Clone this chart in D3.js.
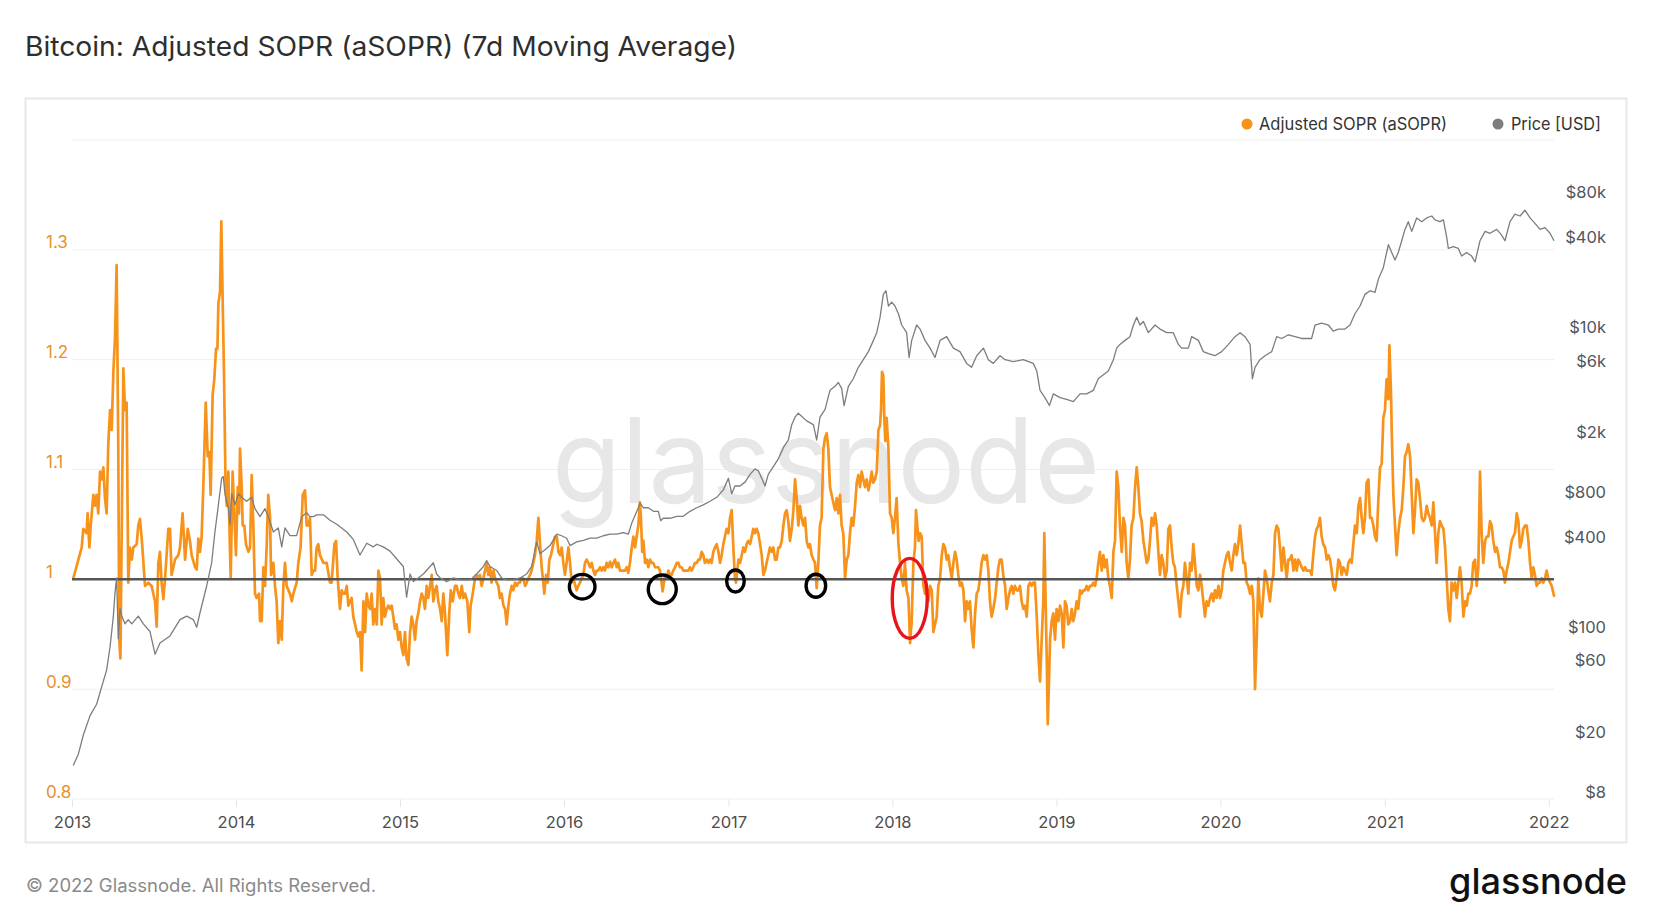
<!DOCTYPE html>
<html><head><meta charset="utf-8">
<script src="https://cdn.jsdelivr.net/npm/d3@7"></script>
<style>
html,body{margin:0;padding:0;background:#fff;}
svg{display:block;font-family:Inter,"Noto Sans",sans-serif;}
</style></head><body>
<svg id="chart" width="1659" height="924"></svg>
<script>
// ---------- DATA (time as decimal year) ----------
const titleText = "Bitcoin: Adjusted SOPR (aSOPR) (7d Moving Average)";
const seriesNames = ["Adjusted SOPR (aSOPR)", "Price [USD]"];
const yearTicks = [2013,2014,2015,2016,2017,2018,2019,2020,2021,2022];
const soprTicks = [0.8,0.9,1,1.1,1.2,1.3];
const soprGrid = [0.8,0.9,1.1,1.2,1.3,1.4];
const priceTicks = [8,20,60,100,400,800,2000,6000,10000,40000,80000];
const priceTickLabels = ["$8","$20","$60","$100","$400","$800","$2k","$6k","$10k","$40k","$80k"];
const lastDate = 2022.031;

const asoprPoints = [
[2013.008,1.001],[2013.039,1.018],[2013.059,1.029],[2013.069,1.046],[2013.089,1.042],[2013.095,1.060],[2013.106,1.029],[2013.114,1.049],[2013.130,1.077],[2013.140,1.067],[2013.150,1.077],[2013.160,1.060],[2013.171,1.098],[2013.181,1.091],[2013.191,1.102],[2013.201,1.074],[2013.211,1.060],[2013.221,1.123],[2013.232,1.154],[2013.242,1.136],[2013.252,1.189],[2013.262,1.220],[2013.272,1.286],[2013.282,1.119],[2013.288,0.945],[2013.295,0.928],[2013.313,1.192],[2013.323,1.154],[2013.333,1.161],[2013.343,0.997],[2013.353,1.029],[2013.364,1.018],[2013.374,1.029],[2013.394,1.032],[2013.404,1.049],[2013.414,1.055],[2013.425,1.037],[2013.445,0.994],[2013.465,0.997],[2013.485,0.994],[2013.506,0.980],[2013.516,0.957],[2013.526,1.015],[2013.536,1.025],[2013.546,0.997],[2013.557,0.982],[2013.567,1.001],[2013.587,1.046],[2013.597,1.046],[2013.607,1.004],[2013.628,1.018],[2013.648,1.022],[2013.658,1.029],[2013.674,1.060],[2013.689,1.018],[2013.705,1.046],[2013.719,1.035],[2013.729,1.022],[2013.750,1.011],[2013.760,1.009],[2013.770,1.037],[2013.780,1.025],[2013.790,1.039],[2013.800,1.084],[2013.815,1.161],[2013.827,1.112],[2013.837,1.116],[2013.845,1.077],[2013.857,1.168],[2013.867,1.182],[2013.878,1.210],[2013.886,1.210],[2013.892,1.251],[2013.902,1.262],[2013.910,1.326],[2013.918,1.255],[2013.926,1.189],[2013.936,1.084],[2013.943,1.067],[2013.953,1.098],[2013.959,1.049],[2013.967,1.001],[2013.979,1.098],[2013.987,1.067],[2013.999,1.022],
[2014.010,1.084],[2014.018,1.060],[2014.024,1.119],[2014.034,1.084],[2014.040,1.049],[2014.050,1.049],[2014.060,1.032],[2014.075,1.025],[2014.085,1.029],[2014.095,1.095],[2014.105,1.049],[2014.115,0.987],[2014.125,0.983],[2014.140,0.987],[2014.146,0.962],[2014.156,0.962],[2014.166,1.011],[2014.176,0.994],[2014.186,1.029],[2014.196,1.077],[2014.207,1.056],[2014.213,1.004],[2014.227,1.015],[2014.237,0.994],[2014.247,0.980],[2014.257,0.942],[2014.268,0.962],[2014.278,0.945],[2014.288,0.994],[2014.298,1.015],[2014.308,0.994],[2014.328,0.987],[2014.339,0.980],[2014.349,0.987],[2014.369,0.997],[2014.379,1.015],[2014.393,1.029],[2014.406,1.077],[2014.420,1.081],[2014.430,1.049],[2014.440,1.049],[2014.450,1.056],[2014.461,1.004],[2014.471,1.008],[2014.481,1.008],[2014.491,1.029],[2014.501,1.032],[2014.511,1.022],[2014.532,1.015],[2014.552,1.015],[2014.572,0.997],[2014.582,0.997],[2014.599,1.032],[2014.609,1.035],[2014.619,1.001],[2014.633,0.973],[2014.643,0.990],[2014.654,0.987],[2014.664,0.987],[2014.674,0.994],[2014.684,0.976],[2014.694,0.980],[2014.704,0.983],[2014.714,0.966],[2014.725,0.959],[2014.735,0.952],[2014.745,0.948],[2014.755,0.952],[2014.765,0.917],[2014.776,0.980],[2014.786,0.952],[2014.796,0.987],[2014.806,0.976],[2014.816,0.973],[2014.826,0.987],[2014.836,0.959],[2014.847,0.973],[2014.857,0.959],[2014.867,1.008],[2014.877,1.001],[2014.887,0.959],[2014.897,0.983],[2014.907,0.966],[2014.918,0.973],[2014.928,0.976],[2014.938,0.973],[2014.948,0.976],[2014.958,0.966],[2014.968,0.955],[2014.978,0.959],[2014.989,0.945],[2014.999,0.952],
[2015.009,0.938],[2015.019,0.931],[2015.029,0.952],[2015.039,0.928],[2015.050,0.922],[2015.060,0.952],[2015.070,0.966],[2015.080,0.959],[2015.090,0.945],[2015.100,0.962],[2015.110,0.969],[2015.121,0.980],[2015.131,0.987],[2015.141,0.983],[2015.151,0.973],[2015.161,0.994],[2015.171,0.983],[2015.192,1.004],[2015.202,0.980],[2015.212,0.990],[2015.222,0.994],[2015.232,0.980],[2015.243,0.973],[2015.253,0.962],[2015.263,0.987],[2015.273,0.969],[2015.287,0.931],[2015.299,0.969],[2015.308,0.990],[2015.320,0.980],[2015.334,0.994],[2015.344,0.994],[2015.354,0.987],[2015.364,0.983],[2015.375,0.994],[2015.385,0.983],[2015.395,0.987],[2015.409,0.980],[2015.421,0.952],[2015.429,0.976],[2015.442,0.987],[2015.456,1.001],[2015.466,1.004],[2015.476,1.001],[2015.486,1.004],[2015.496,0.994],[2015.507,1.001],[2015.517,1.008],[2015.527,1.015],[2015.537,1.004],[2015.547,1.011],[2015.557,0.997],[2015.568,1.008],[2015.578,1.001],[2015.588,0.997],[2015.598,0.994],[2015.608,0.983],[2015.618,0.987],[2015.629,0.976],[2015.639,0.973],[2015.649,0.959],[2015.659,0.976],[2015.669,0.987],[2015.679,0.994],[2015.689,0.990],[2015.700,0.997],[2015.710,0.994],[2015.720,0.997],[2015.730,0.997],[2015.740,1.001],[2015.750,1.001],[2015.761,0.994],[2015.771,0.997],[2015.781,1.001],[2015.791,1.004],[2015.801,1.008],[2015.811,1.015],[2015.821,1.022],[2015.832,1.035],[2015.842,1.056],[2015.852,1.032],[2015.862,1.011],[2015.872,0.997],[2015.878,0.987],[2015.889,1.004],[2015.899,0.997],[2015.909,1.018],[2015.919,1.022],[2015.933,1.032],[2015.943,1.039],[2015.954,1.039],[2015.964,1.025],[2015.974,1.022],[2015.984,1.029],[2015.994,1.015],
[2016.004,1.004],[2016.014,1.015],[2016.025,1.029],[2016.035,1.015],[2016.045,0.997],[2016.055,1.001],[2016.075,0.990],[2016.085,0.994],[2016.096,0.997],[2016.106,1.001],[2016.116,1.004],[2016.126,1.015],[2016.136,1.018],[2016.146,1.015],[2016.157,1.011],[2016.167,1.015],[2016.177,1.008],[2016.187,1.004],[2016.197,1.008],[2016.207,1.008],[2016.218,1.011],[2016.228,1.008],[2016.238,1.011],[2016.248,1.008],[2016.258,1.015],[2016.268,1.011],[2016.279,1.016],[2016.289,1.011],[2016.299,1.015],[2016.309,1.018],[2016.319,1.011],[2016.329,1.015],[2016.339,1.008],[2016.350,1.008],[2016.360,1.008],[2016.370,1.008],[2016.380,1.011],[2016.390,1.006],[2016.400,1.015],[2016.411,1.029],[2016.421,1.039],[2016.431,1.029],[2016.441,1.039],[2016.451,1.049],[2016.461,1.070],[2016.467,1.056],[2016.475,1.025],[2016.482,1.035],[2016.492,1.015],[2016.502,1.018],[2016.512,1.011],[2016.522,1.018],[2016.532,1.015],[2016.542,1.015],[2016.553,1.011],[2016.563,1.011],[2016.573,1.011],[2016.583,1.008],[2016.593,0.997],[2016.599,0.989],[2016.607,0.997],[2016.616,1.004],[2016.624,1.001],[2016.634,1.008],[2016.644,1.004],[2016.654,1.004],[2016.664,1.008],[2016.675,1.011],[2016.685,1.015],[2016.695,1.015],[2016.705,1.011],[2016.715,1.011],[2016.725,1.008],[2016.735,1.008],[2016.746,1.008],[2016.756,1.008],[2016.766,1.011],[2016.776,1.008],[2016.786,1.011],[2016.796,1.015],[2016.807,1.015],[2016.817,1.018],[2016.827,1.018],[2016.837,1.025],[2016.847,1.022],[2016.857,1.015],[2016.868,1.018],[2016.878,1.015],[2016.888,1.018],[2016.898,1.015],[2016.908,1.025],[2016.918,1.029],[2016.929,1.032],[2016.939,1.025],[2016.949,1.015],[2016.959,1.022],[2016.969,1.032],[2016.979,1.039],[2016.989,1.046],
[2017.000,1.042],[2017.010,1.056],[2017.020,1.063],[2017.030,1.029],[2017.040,1.001],[2017.046,0.997],[2017.054,1.008],[2017.061,1.018],[2017.071,1.015],[2017.081,1.022],[2017.091,1.029],[2017.101,1.025],[2017.111,1.032],[2017.121,1.035],[2017.132,1.032],[2017.142,1.039],[2017.152,1.046],[2017.162,1.042],[2017.172,1.046],[2017.182,1.042],[2017.193,1.032],[2017.203,1.022],[2017.213,1.004],[2017.223,1.008],[2017.233,1.015],[2017.243,1.022],[2017.253,1.029],[2017.264,1.025],[2017.274,1.029],[2017.284,1.018],[2017.294,1.018],[2017.304,1.029],[2017.314,1.029],[2017.325,1.035],[2017.335,1.049],[2017.345,1.060],[2017.355,1.063],[2017.365,1.053],[2017.375,1.035],[2017.386,1.046],[2017.396,1.063],[2017.406,1.091],[2017.416,1.074],[2017.426,1.049],[2017.436,1.067],[2017.446,1.056],[2017.457,1.049],[2017.467,1.056],[2017.477,1.035],[2017.487,1.029],[2017.497,1.032],[2017.507,1.022],[2017.518,1.018],[2017.528,1.015],[2017.538,0.992],[2017.548,1.015],[2017.558,1.049],[2017.568,1.056],[2017.579,1.119],[2017.589,1.129],[2017.599,1.133],[2017.609,1.119],[2017.619,1.084],[2017.629,1.077],[2017.639,1.070],[2017.650,1.063],[2017.660,1.074],[2017.670,1.060],[2017.680,1.077],[2017.690,1.049],[2017.700,1.042],[2017.711,1.001],[2017.721,1.018],[2017.731,1.022],[2017.741,1.042],[2017.751,1.056],[2017.761,1.049],[2017.772,1.067],[2017.782,1.088],[2017.792,1.095],[2017.802,1.084],[2017.812,1.098],[2017.822,1.091],[2017.832,1.084],[2017.843,1.091],[2017.853,1.081],[2017.863,1.088],[2017.873,1.098],[2017.883,1.088],[2017.893,1.091],[2017.904,1.098],[2017.914,1.136],[2017.924,1.140],[2017.930,1.154],[2017.936,1.189],[2017.944,1.185],[2017.950,1.147],[2017.956,1.126],[2017.964,1.147],[2017.975,1.119],[2017.985,1.060],[2017.995,1.056],
[2018.005,1.042],[2018.015,1.056],[2018.025,1.074],[2018.036,1.032],[2018.046,1.015],[2018.056,1.001],[2018.066,0.994],[2018.076,1.015],[2018.086,0.990],[2018.097,0.983],[2018.107,0.942],[2018.117,0.962],[2018.127,1.015],[2018.137,1.029],[2018.143,1.063],[2018.151,1.049],[2018.159,1.035],[2018.168,1.042],[2018.178,1.039],[2018.188,0.994],[2018.198,0.987],[2018.208,0.994],[2018.218,0.980],[2018.229,0.994],[2018.239,0.990],[2018.249,0.952],[2018.259,0.959],[2018.269,0.966],[2018.279,0.994],[2018.290,1.001],[2018.300,1.022],[2018.310,1.032],[2018.320,1.029],[2018.330,1.018],[2018.340,1.022],[2018.350,1.011],[2018.361,1.001],[2018.371,1.015],[2018.381,1.025],[2018.391,1.018],[2018.401,1.004],[2018.411,0.994],[2018.422,0.997],[2018.432,0.990],[2018.442,0.962],[2018.452,0.980],[2018.462,0.973],[2018.472,0.980],[2018.482,0.955],[2018.493,0.938],[2018.503,0.969],[2018.513,0.987],[2018.523,0.990],[2018.533,1.001],[2018.543,1.015],[2018.554,1.022],[2018.564,1.018],[2018.574,1.022],[2018.584,1.008],[2018.594,0.980],[2018.604,0.966],[2018.614,0.973],[2018.625,0.983],[2018.635,0.997],[2018.645,1.011],[2018.655,1.018],[2018.665,1.018],[2018.675,1.004],[2018.686,0.994],[2018.696,0.973],[2018.706,0.983],[2018.716,0.990],[2018.726,0.994],[2018.736,0.987],[2018.746,0.994],[2018.757,0.990],[2018.767,0.990],[2018.777,0.994],[2018.787,0.980],[2018.797,0.973],[2018.807,0.976],[2018.818,0.966],[2018.828,0.994],[2018.838,0.997],[2018.848,0.994],[2018.858,0.997],[2018.868,0.997],[2018.879,0.966],[2018.889,0.931],[2018.899,0.907],[2018.909,0.945],[2018.919,0.980],[2018.925,1.042],[2018.933,0.980],[2018.940,0.928],[2018.946,0.868],[2018.954,0.910],[2018.960,0.945],[2018.970,0.962],[2018.980,0.969],[2018.990,0.945],
[2019.000,0.973],[2019.011,0.962],[2019.021,0.976],[2019.031,0.969],[2019.041,0.938],[2019.051,0.980],[2019.061,0.976],[2019.071,0.959],[2019.082,0.962],[2019.092,0.973],[2019.102,0.962],[2019.112,0.969],[2019.122,0.980],[2019.132,0.973],[2019.143,0.990],[2019.153,0.987],[2019.163,0.990],[2019.173,0.990],[2019.183,0.994],[2019.193,0.990],[2019.203,0.994],[2019.214,0.994],[2019.224,0.997],[2019.234,0.994],[2019.244,1.001],[2019.254,1.015],[2019.264,1.025],[2019.275,1.008],[2019.285,1.022],[2019.295,1.011],[2019.305,1.018],[2019.315,1.001],[2019.325,0.994],[2019.336,0.983],[2019.346,1.025],[2019.356,1.035],[2019.366,1.098],[2019.376,1.084],[2019.386,1.049],[2019.397,1.025],[2019.407,1.056],[2019.417,1.049],[2019.427,1.015],[2019.437,1.001],[2019.447,1.018],[2019.457,1.049],[2019.468,1.056],[2019.478,1.084],[2019.488,1.102],[2019.498,1.084],[2019.508,1.060],[2019.518,1.053],[2019.529,1.035],[2019.539,1.025],[2019.549,1.015],[2019.559,1.018],[2019.569,1.035],[2019.579,1.056],[2019.590,1.049],[2019.600,1.060],[2019.610,1.049],[2019.620,1.025],[2019.630,1.004],[2019.640,1.022],[2019.650,1.015],[2019.661,1.001],[2019.671,1.008],[2019.681,1.046],[2019.691,1.049],[2019.701,1.029],[2019.711,1.015],[2019.721,1.011],[2019.732,0.994],[2019.742,0.980],[2019.752,0.966],[2019.762,0.987],[2019.772,0.994],[2019.782,1.015],[2019.793,1.001],[2019.803,0.987],[2019.813,1.015],[2019.823,1.008],[2019.833,1.032],[2019.843,1.015],[2019.854,0.994],[2019.864,0.990],[2019.874,1.004],[2019.884,0.994],[2019.894,0.980],[2019.904,0.966],[2019.914,0.980],[2019.925,0.976],[2019.935,0.983],[2019.945,0.987],[2019.955,0.980],[2019.965,0.990],[2019.975,0.983],[2019.986,0.994],[2019.996,0.983],
[2020.006,0.990],[2020.016,1.008],[2020.026,1.015],[2020.036,1.022],[2020.047,1.025],[2020.057,1.015],[2020.067,1.008],[2020.077,1.022],[2020.087,1.032],[2020.097,1.022],[2020.107,1.032],[2020.118,1.049],[2020.128,1.032],[2020.138,1.015],[2020.148,1.015],[2020.158,0.997],[2020.168,0.994],[2020.179,0.987],[2020.189,0.994],[2020.199,0.980],[2020.209,0.900],[2020.219,0.945],[2020.229,1.001],[2020.239,0.973],[2020.250,0.966],[2020.260,0.987],[2020.270,1.008],[2020.280,1.001],[2020.290,0.990],[2020.300,0.980],[2020.311,0.997],[2020.321,1.004],[2020.331,1.042],[2020.341,1.049],[2020.351,1.046],[2020.361,1.029],[2020.372,1.008],[2020.382,1.029],[2020.392,1.015],[2020.402,1.001],[2020.412,1.018],[2020.422,1.018],[2020.432,1.022],[2020.443,1.008],[2020.453,1.018],[2020.463,1.008],[2020.473,1.018],[2020.483,1.015],[2020.493,1.011],[2020.504,1.008],[2020.514,1.011],[2020.524,1.008],[2020.534,1.008],[2020.544,1.008],[2020.554,1.004],[2020.564,1.022],[2020.575,1.039],[2020.585,1.046],[2020.595,1.049],[2020.605,1.056],[2020.615,1.039],[2020.625,1.032],[2020.636,1.029],[2020.646,1.018],[2020.656,1.022],[2020.666,1.018],[2020.676,1.008],[2020.686,0.994],[2020.696,0.990],[2020.707,1.001],[2020.717,1.018],[2020.727,1.015],[2020.737,1.004],[2020.747,1.011],[2020.757,1.008],[2020.768,1.004],[2020.778,1.015],[2020.788,1.018],[2020.798,1.015],[2020.808,1.032],[2020.818,1.049],[2020.829,1.042],[2020.839,1.067],[2020.849,1.074],[2020.859,1.056],[2020.869,1.042],[2020.879,1.056],[2020.889,1.088],[2020.900,1.091],[2020.910,1.056],[2020.920,1.056],[2020.930,1.049],[2020.940,1.039],[2020.950,1.035],[2020.961,1.074],[2020.971,1.102],[2020.981,1.105],[2020.991,1.147],
[2021.001,1.154],[2021.011,1.182],[2021.022,1.164],[2021.028,1.213],[2021.038,1.168],[2021.042,1.136],[2021.052,1.077],[2021.062,1.049],[2021.072,1.022],[2021.082,1.042],[2021.093,1.056],[2021.103,1.063],[2021.113,1.084],[2021.123,1.112],[2021.133,1.116],[2021.143,1.123],[2021.154,1.112],[2021.164,1.077],[2021.174,1.042],[2021.184,1.063],[2021.194,1.091],[2021.204,1.088],[2021.214,1.074],[2021.225,1.056],[2021.235,1.053],[2021.245,1.056],[2021.255,1.067],[2021.265,1.060],[2021.275,1.056],[2021.286,1.049],[2021.296,1.070],[2021.306,1.042],[2021.316,1.015],[2021.326,1.042],[2021.336,1.053],[2021.347,1.049],[2021.357,1.046],[2021.367,1.029],[2021.377,1.001],[2021.387,0.973],[2021.397,0.962],[2021.407,0.997],[2021.418,0.990],[2021.428,0.997],[2021.438,0.983],[2021.448,0.997],[2021.458,1.011],[2021.468,0.997],[2021.479,0.966],[2021.489,0.980],[2021.499,0.976],[2021.509,0.987],[2021.519,0.987],[2021.529,0.994],[2021.539,1.015],[2021.550,1.018],[2021.560,0.994],[2021.570,1.011],[2021.580,1.098],[2021.590,1.042],[2021.600,1.015],[2021.611,1.035],[2021.621,1.039],[2021.631,1.039],[2021.641,1.053],[2021.651,1.049],[2021.661,1.035],[2021.672,1.025],[2021.682,1.029],[2021.692,1.022],[2021.702,1.011],[2021.712,1.011],[2021.722,1.008],[2021.732,0.997],[2021.743,1.008],[2021.753,1.015],[2021.763,1.025],[2021.773,1.035],[2021.783,1.039],[2021.793,1.042],[2021.804,1.060],[2021.814,1.053],[2021.824,1.029],[2021.834,1.035],[2021.844,1.046],[2021.854,1.049],[2021.864,1.049],[2021.875,1.035],[2021.885,1.015],[2021.895,1.001],[2021.905,1.011],[2021.915,1.004],[2021.925,0.994],[2021.936,0.997],[2021.946,0.997],[2021.956,1.001],[2021.966,0.997],[2021.976,1.001],[2021.986,1.008],[2021.996,1.001],[2022.007,0.997],[2022.017,0.994],[2022.031,0.985]
];

const pricePoints = [
[2013.008,13.4],[2013.039,16],[2013.069,21.4],[2013.110,28.8],[2013.150,34.3],[2013.191,49],[2013.211,58],[2013.232,83],[2013.252,133],[2013.262,190],[2013.272,239],[2013.282,94],[2013.293,149],[2013.303,133],[2013.323,118],[2013.343,126],[2013.364,118],[2013.404,133],[2013.435,118],[2013.475,105],[2013.506,74],[2013.536,88],[2013.597,98],[2013.658,126],[2013.699,133],[2013.739,126],[2013.760,112],[2013.780,140],[2013.821,212],[2013.851,301],[2013.871,484],[2013.892,734],[2013.912,1105],[2013.922,1137],[2013.932,872],[2013.953,693],[2013.963,545],[2013.973,872],[2013.993,734],
[2014.014,872],[2014.034,825],[2014.064,776],[2014.095,825],[2014.115,693],[2014.146,613],[2014.176,693],[2014.196,613],[2014.227,484],[2014.257,515],[2014.278,385],[2014.298,515],[2014.328,458],[2014.369,458],[2014.400,613],[2014.430,650],[2014.450,613],[2014.471,613],[2014.491,630],[2014.532,630],[2014.572,580],[2014.613,545],[2014.643,515],[2014.674,484],[2014.714,432],[2014.755,340],[2014.796,407],[2014.836,385],[2014.857,401],[2014.897,385],[2014.938,361],[2014.978,321],
[2015.019,285],[2015.039,178],[2015.060,254],[2015.080,226],[2015.110,239],[2015.141,254],[2015.182,285],[2015.202,302],[2015.222,254],[2015.243,239],[2015.283,226],[2015.324,239],[2015.364,232],[2015.425,232],[2015.466,254],[2015.507,285],[2015.527,312],[2015.547,285],[2015.588,268],[2015.618,239],[2015.649,232],[2015.689,232],[2015.730,239],[2015.771,254],[2015.801,285],[2015.832,416],[2015.852,346],[2015.882,368],[2015.913,393],[2015.954,468],[2015.984,457],
[2016.014,440],[2016.035,393],[2016.075,416],[2016.116,426],[2016.157,440],[2016.197,440],[2016.238,457],[2016.279,468],[2016.319,468],[2016.360,480],[2016.390,468],[2016.411,555],[2016.431,624],[2016.451,703],[2016.461,755],[2016.482,703],[2016.512,703],[2016.543,665],[2016.573,665],[2016.587,576],[2016.603,598],[2016.644,598],[2016.685,616],[2016.725,616],[2016.766,665],[2016.807,703],[2016.847,734],[2016.888,776],[2016.929,825],[2016.969,925],
[2017.000,1105],[2017.020,872],[2017.040,982],[2017.071,982],[2017.101,1042],[2017.132,1173],[2017.162,1278],[2017.182,1240],[2017.203,1105],[2017.223,982],[2017.243,1173],[2017.274,1320],[2017.304,1487],[2017.335,1768],[2017.365,1990],[2017.386,2517],[2017.406,2828],[2017.426,3005],[2017.477,2670],[2017.518,2520],[2017.538,1990],[2017.558,2828],[2017.589,3187],[2017.619,4270],[2017.650,4540],[2017.670,4820],[2017.690,4400],[2017.705,3380],[2017.731,4540],[2017.761,5100],[2017.792,6080],[2017.822,6840],[2017.853,7740],[2017.873,8650],[2017.904,10360],[2017.924,13100],[2017.944,18660],[2017.960,19740],[2017.975,15600],[2017.995,16560],
[2018.015,15600],[2018.036,13850],[2018.056,11650],[2018.086,10360],[2018.101,7070],[2018.117,9200],[2018.147,11650],[2018.168,10940],[2018.198,9200],[2018.229,8170],[2018.259,7070],[2018.290,9200],[2018.330,9740],[2018.371,8170],[2018.411,7740],[2018.452,6460],[2018.482,6080],[2018.513,7270],[2018.554,8170],[2018.584,6840],[2018.614,6460],[2018.655,7270],[2018.686,6840],[2018.736,6640],[2018.797,6840],[2018.858,6460],[2018.879,5750],[2018.899,4270],[2018.929,3820],[2018.956,3380],[2018.980,4040],
[2019.021,3820],[2019.061,3720],[2019.102,3590],[2019.143,4040],[2019.183,4040],[2019.224,4270],[2019.254,5100],[2019.285,5430],[2019.315,5750],[2019.346,6840],[2019.366,8170],[2019.386,8650],[2019.417,9200],[2019.447,9740],[2019.468,11650],[2019.488,13100],[2019.508,11650],[2019.529,12300],[2019.559,10360],[2019.600,11650],[2019.630,10940],[2019.671,10360],[2019.711,10360],[2019.742,8650],[2019.762,8170],[2019.803,8170],[2019.823,9740],[2019.864,9200],[2019.894,7740],[2019.925,7500],[2019.965,7270],
[2020.006,7740],[2020.047,8650],[2020.087,9740],[2020.118,10360],[2020.148,9740],[2020.179,8650],[2020.193,5100],[2020.209,6080],[2020.239,6840],[2020.270,7270],[2020.311,7740],[2020.341,9740],[2020.372,9470],[2020.412,10030],[2020.453,9740],[2020.493,9470],[2020.554,9470],[2020.575,11650],[2020.615,12000],[2020.656,11650],[2020.686,10600],[2020.717,10940],[2020.757,10940],[2020.788,11650],[2020.818,13850],[2020.849,15600],[2020.879,18660],[2020.910,19740],[2020.940,19200],[2020.961,23600],[2020.991,28100],
[2021.011,35500],[2021.022,40000],[2021.042,35500],[2021.062,31600],[2021.082,35500],[2021.103,42500],[2021.123,50600],[2021.143,57000],[2021.164,49100],[2021.194,60400],[2021.225,57000],[2021.255,60400],[2021.286,62200],[2021.306,58600],[2021.336,57000],[2021.357,58600],[2021.377,45000],[2021.387,37800],[2021.418,38800],[2021.448,37800],[2021.468,33600],[2021.499,35500],[2021.529,33600],[2021.550,30700],[2021.580,42500],[2021.611,49100],[2021.641,47700],[2021.682,50600],[2021.712,46400],[2021.732,42500],[2021.763,57000],[2021.793,64000],[2021.824,62200],[2021.854,68000],[2021.885,60400],[2021.915,55500],[2021.946,50600],[2021.976,52000],[2022.007,47700],[2022.031,42500]
];

// hand-drawn annotation marks (decimal year, aSOPR value)
const blackMarks = [[2016.109,0.9933],[2016.597,0.9909],[2017.043,0.9985],[2017.533,0.9941]];
const redMarks = [[2018.105,0.9827]];

// ---------- STYLE ----------
const ORANGE = "#f7931a", GREY = "#7d7d7d";
const blackMarkRadii = [[12.8,12.3],[14,14.3],[8.8,11],[9.8,11.5]];
const redMarkRadii = [[17.5,40]];

// ---------- SCALES ----------
const plot = {left:72, right:1554, top:140, bottom:799};
const toDate = t => new Date(Date.UTC(2013,0,1) + (t-2013)*365.25*864e5);
const x = d3.scaleUtc().domain([toDate(2013), toDate(lastDate)]).range([plot.left, plot.right]);
const yS = d3.scaleLinear().domain([0.8,1.4]).range([plot.bottom, plot.top]);
const yP = d3.scaleLog().domain([8,200000]).range([plot.bottom, plot.top]);

const svg = d3.select("#chart");

// title
svg.append("text").attr("x",25).attr("y",56).attr("font-size",27).attr("font-weight",400)
  .attr("fill","#2e2e2e").attr("textLength",712).attr("lengthAdjust","spacingAndGlyphs").text(titleText);

// frame
svg.append("rect").attr("x",25.5).attr("y",98.5).attr("width",1601).attr("height",744)
  .attr("fill","none").attr("stroke","#e8e8e8").attr("stroke-width",2);

// gridlines
svg.append("g").selectAll("line").data(soprGrid).join("line")
  .attr("x1",plot.left).attr("x2",plot.right).attr("y1",d=>yS(d)).attr("y2",d=>yS(d))
  .attr("stroke","#efefef").attr("stroke-width",1);

// watermark
svg.append("text").attr("x",552).attr("y",503).attr("font-size",118).attr("font-weight",400)
  .attr("fill","#e7e7e7").attr("textLength",548).attr("lengthAdjust","spacingAndGlyphs").text("glassnode");

// x axis
const xAxis = d3.axisBottom(x).tickValues(yearTicks.map(y=>new Date(Date.UTC(y,0,1))))
  .tickFormat(d3.utcFormat("%Y")).tickSize(8).tickPadding(9);
const gx = svg.append("g").attr("transform",`translate(0,${plot.bottom})`).call(xAxis);
gx.select(".domain").remove();
gx.selectAll(".tick line").attr("stroke","#e6e6e6");
gx.selectAll(".tick text").attr("fill","#4d4d4d").attr("font-size",16.5).attr("font-family","Inter");

// left axis (labels left-aligned)
const gl = svg.append("g").attr("transform",`translate(${plot.left},0)`)
  .call(d3.axisLeft(yS).tickValues(soprTicks).tickFormat(d3.format("~g")).tickSize(0).tickPadding(0));
gl.select(".domain").remove();
gl.selectAll(".tick text").attr("fill","#e8912d").attr("font-size",17).attr("font-family","Inter")
  .attr("text-anchor","start").attr("x",46 - plot.left).attr("dy","-2px");

// right axis
const gr = svg.append("g").attr("transform",`translate(1606,0)`)
  .call(d3.axisRight(yP).tickValues(priceTicks).tickFormat((d,i)=>priceTickLabels[i]).tickSize(0).tickPadding(0));
gr.select(".domain").remove();
gr.selectAll(".tick text").attr("fill","#505560").attr("font-size",16.5).attr("font-family","Inter")
  .attr("text-anchor","end").attr("x",0).attr("dy","-2px");

// series
const soprLine = d3.line().x(d=>x(toDate(d[0]))).y(d=>yS(d[1]));
svg.append("path").datum(asoprPoints).attr("d",soprLine).attr("fill","none")
  .attr("stroke",ORANGE).attr("stroke-width",2.7).attr("stroke-linejoin","round").attr("stroke-linecap","round");

// reference line at 1
svg.append("line").attr("x1",plot.left).attr("x2",plot.right).attr("y1",yS(1)).attr("y2",yS(1))
  .attr("stroke","#555").attr("stroke-width",2.5);

const priceLine = d3.line().x(d=>x(toDate(d[0]))).y(d=>yP(d[1]));
svg.append("path").datum(pricePoints).attr("d",priceLine).attr("fill","none")
  .attr("stroke",GREY).attr("stroke-width",1.3).attr("stroke-linejoin","round");

// annotations
svg.append("g").selectAll("ellipse").data(blackMarks).join("ellipse")
  .attr("cx",d=>x(toDate(d[0]))).attr("cy",d=>yS(d[1]))
  .attr("rx",(d,i)=>blackMarkRadii[i][0]).attr("ry",(d,i)=>blackMarkRadii[i][1])
  .attr("fill","none").attr("stroke","#000").attr("stroke-width",3.4);
svg.append("g").selectAll("ellipse").data(redMarks).join("ellipse")
  .attr("cx",d=>x(toDate(d[0]))).attr("cy",d=>yS(d[1]))
  .attr("rx",(d,i)=>redMarkRadii[i][0]).attr("ry",(d,i)=>redMarkRadii[i][1])
  .attr("fill","none").attr("stroke","#e8141c").attr("stroke-width",3.4);

// legend
const leg = svg.append("g");
const legItems = [{name:seriesNames[0],color:ORANGE,cx:1247,tx:1259,w:188},{name:seriesNames[1],color:GREY,cx:1498,tx:1511,w:90}];
legItems.forEach(it=>{
  leg.append("circle").attr("cx",it.cx).attr("cy",124).attr("r",5.5).attr("fill",it.color);
  leg.append("text").attr("x",it.tx).attr("y",130).attr("font-size",17).attr("fill","#333")
    .attr("textLength",it.w).attr("lengthAdjust","spacingAndGlyphs").text(it.name);
});

// footer
svg.append("text").attr("x",26).attr("y",892).attr("font-size",18).attr("fill","#8a8a8a")
  .attr("textLength",350).attr("lengthAdjust","spacingAndGlyphs").text("© 2022 Glassnode. All Rights Reserved.");
svg.append("text").attr("x",1449).attr("y",894).attr("font-size",36).attr("font-weight",500).attr("fill","#111")
  .attr("textLength",178).attr("lengthAdjust","spacingAndGlyphs").text("glassnode");
</script></body></html>
